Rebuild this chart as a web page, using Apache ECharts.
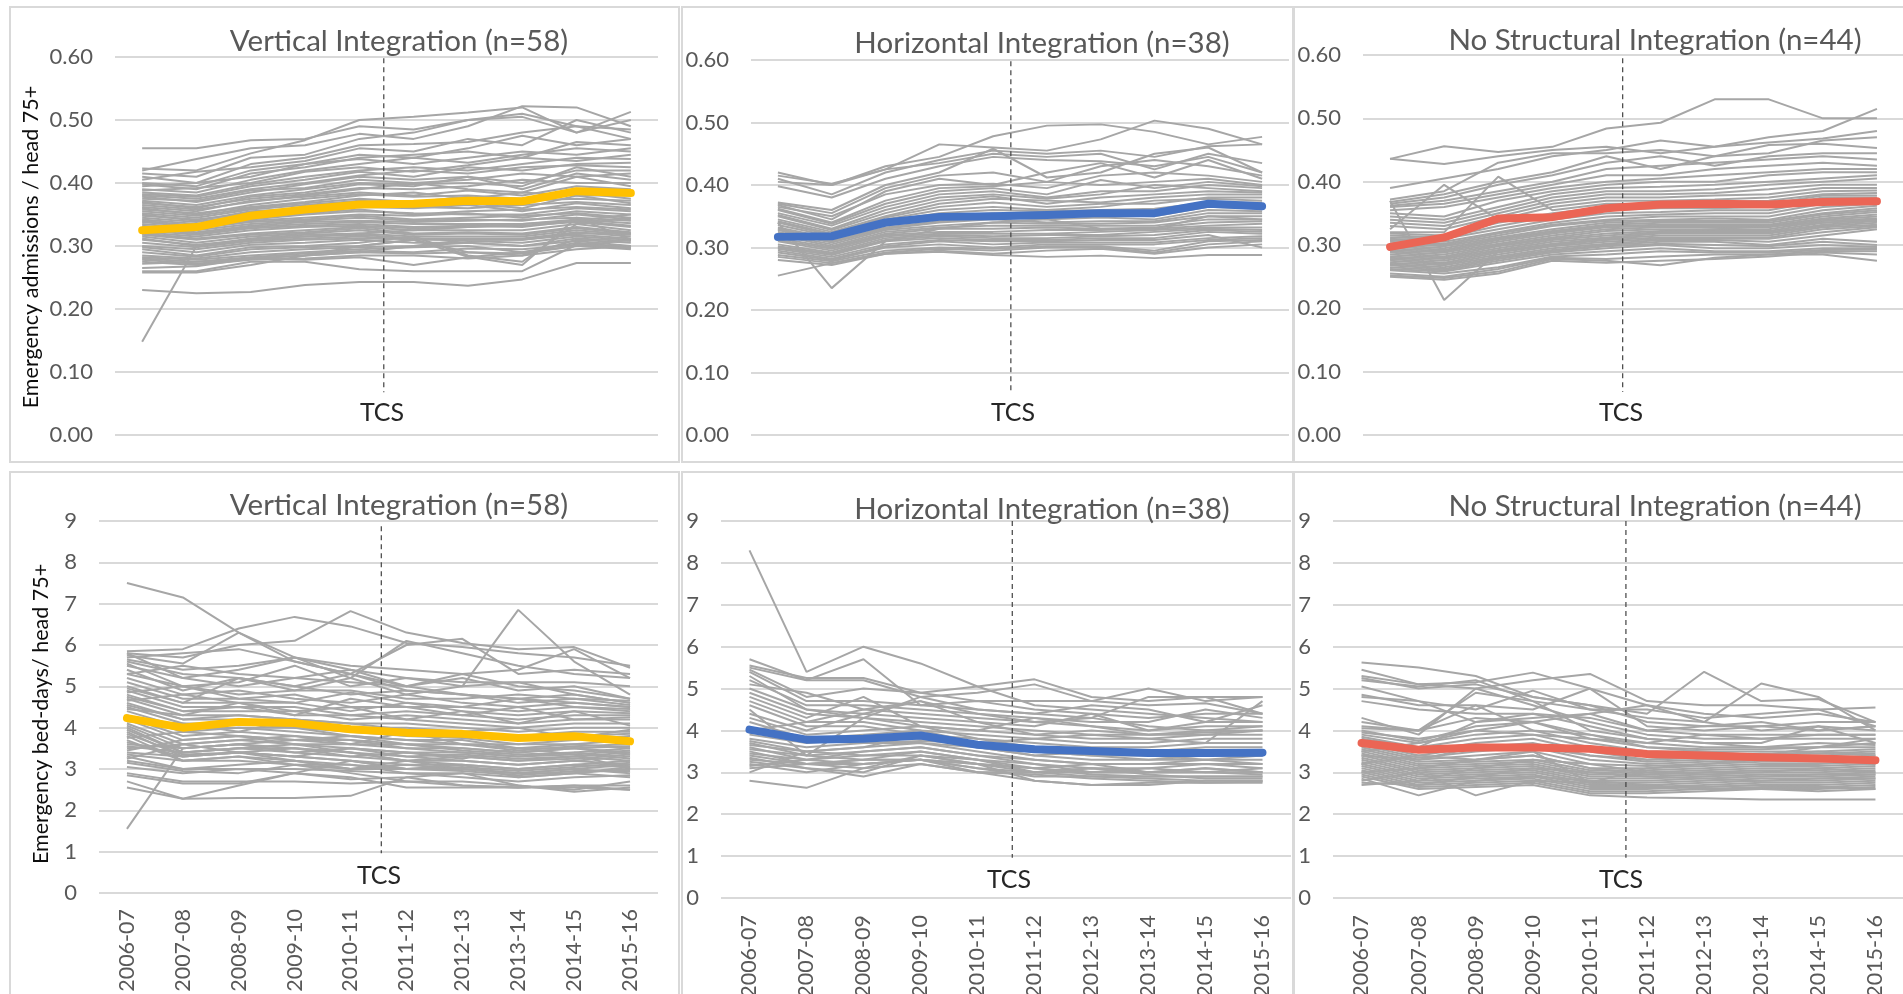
<!DOCTYPE html>
<html>
<head>
<meta charset="utf-8">
<script src="https://cdn.jsdelivr.net/npm/echarts@6/dist/echarts.min.js"></script>
<style>
html, body { margin: 0; padding: 0; background: #ffffff; }
#chart { width: 1903px; height: 994px; }
</style>
</head>
<body>
<div id="chart"></div>
<script>
// Financial years on the x axis
const years = ['2006-07','2007-08','2008-09','2009-10','2010-11','2011-12','2012-13','2013-14','2014-15','2015-16'];

// Emergency admissions per head 75+ : group means
const viAdmMean = [0.325,0.330,0.348,0.358,0.366,0.367,0.372,0.371,0.387,0.384];
const hiAdmMean = [0.317,0.318,0.340,0.349,0.350,0.352,0.355,0.355,0.370,0.366];
const nsAdmMean = [0.297,0.312,0.342,0.344,0.358,0.364,0.365,0.364,0.368,0.369];

// Emergency bed-days per head 75+ : group means
const viBedMean = [4.23,4.00,4.14,4.11,3.96,3.88,3.85,3.75,3.79,3.67];
const hiBedMean = [4.02,3.78,3.80,3.88,3.66,3.55,3.51,3.46,3.46,3.47];
const nsBedMean = [3.70,3.54,3.59,3.59,3.56,3.44,3.40,3.36,3.33,3.29];

// Vertical integration sites, admissions (n=58)
const viAdm = [
[0.455,0.455,0.468,0.470,0.490,0.485,0.500,0.510,0.490,0.470],
[0.423,0.420,0.447,0.468,0.500,0.505,0.512,0.520,0.480,0.500],
[0.420,0.438,0.455,0.460,0.478,0.470,0.490,0.522,0.520,0.490],
[0.415,0.410,0.440,0.445,0.470,0.480,0.500,0.505,0.480,0.513],
[0.410,0.400,0.430,0.440,0.460,0.462,0.465,0.480,0.490,0.485],
[0.405,0.418,0.425,0.435,0.455,0.450,0.470,0.460,0.500,0.480],
[0.400,0.395,0.420,0.430,0.445,0.440,0.455,0.475,0.460,0.470],
[0.398,0.390,0.415,0.425,0.440,0.445,0.450,0.440,0.465,0.460],
[0.395,0.400,0.410,0.430,0.438,0.430,0.440,0.450,0.445,0.455],
[0.390,0.385,0.405,0.420,0.430,0.440,0.432,0.445,0.455,0.450],
[0.388,0.392,0.400,0.418,0.425,0.418,0.428,0.440,0.435,0.445],
[0.385,0.380,0.398,0.410,0.420,0.425,0.420,0.430,0.440,0.438],
[0.382,0.378,0.395,0.405,0.418,0.410,0.425,0.420,0.430,0.432],
[0.380,0.375,0.390,0.400,0.412,0.420,0.415,0.425,0.428,0.425],
[0.378,0.370,0.385,0.398,0.410,0.405,0.410,0.400,0.420,0.420],
[0.375,0.372,0.388,0.392,0.405,0.400,0.405,0.415,0.410,0.415],
[0.372,0.365,0.380,0.390,0.400,0.398,0.400,0.395,0.425,0.410],
[0.370,0.360,0.378,0.385,0.398,0.395,0.410,0.390,0.415,0.405],
[0.368,0.362,0.375,0.382,0.392,0.390,0.395,0.405,0.400,0.400],
[0.365,0.358,0.370,0.380,0.390,0.400,0.390,0.385,0.410,0.395],
[0.362,0.355,0.372,0.378,0.385,0.380,0.388,0.380,0.395,0.390],
[0.360,0.350,0.365,0.375,0.382,0.378,0.380,0.375,0.390,0.388],
[0.358,0.352,0.362,0.370,0.380,0.385,0.375,0.385,0.380,0.380],
[0.355,0.348,0.360,0.368,0.375,0.370,0.378,0.368,0.385,0.375],
[0.352,0.345,0.358,0.365,0.372,0.368,0.370,0.372,0.375,0.372],
[0.350,0.340,0.355,0.360,0.370,0.365,0.368,0.360,0.380,0.368],
[0.348,0.342,0.352,0.358,0.365,0.362,0.360,0.365,0.370,0.365],
[0.345,0.338,0.350,0.355,0.362,0.360,0.365,0.355,0.368,0.360],
[0.342,0.335,0.345,0.352,0.358,0.350,0.355,0.358,0.362,0.358],
[0.340,0.332,0.342,0.350,0.355,0.352,0.350,0.350,0.360,0.355],
[0.338,0.330,0.340,0.345,0.350,0.348,0.352,0.345,0.355,0.350],
[0.335,0.328,0.338,0.342,0.348,0.342,0.345,0.348,0.352,0.345],
[0.332,0.325,0.335,0.340,0.345,0.340,0.342,0.340,0.350,0.342],
[0.330,0.322,0.332,0.338,0.340,0.338,0.340,0.342,0.345,0.340],
[0.328,0.320,0.330,0.335,0.338,0.335,0.335,0.335,0.342,0.336],
[0.325,0.318,0.328,0.332,0.335,0.330,0.332,0.330,0.340,0.332],
[0.322,0.315,0.325,0.330,0.332,0.328,0.330,0.332,0.338,0.330],
[0.320,0.312,0.320,0.325,0.330,0.325,0.325,0.325,0.335,0.325],
[0.318,0.310,0.318,0.322,0.328,0.320,0.322,0.320,0.330,0.322],
[0.315,0.305,0.315,0.320,0.325,0.318,0.320,0.318,0.328,0.320],
[0.312,0.300,0.312,0.318,0.320,0.315,0.315,0.315,0.325,0.318],
[0.310,0.302,0.310,0.315,0.318,0.312,0.312,0.312,0.322,0.315],
[0.305,0.298,0.308,0.312,0.315,0.310,0.310,0.310,0.318,0.312],
[0.300,0.295,0.305,0.310,0.312,0.312,0.308,0.305,0.315,0.310],
[0.298,0.290,0.302,0.305,0.310,0.305,0.305,0.300,0.312,0.308],
[0.295,0.285,0.298,0.300,0.305,0.315,0.285,0.275,0.335,0.345],
[0.290,0.283,0.295,0.298,0.300,0.310,0.290,0.285,0.310,0.305],
[0.285,0.280,0.290,0.295,0.298,0.300,0.305,0.300,0.308,0.300],
[0.282,0.278,0.285,0.290,0.295,0.298,0.300,0.290,0.305,0.298],
[0.280,0.275,0.282,0.288,0.292,0.290,0.296,0.295,0.302,0.296],
[0.278,0.272,0.280,0.285,0.290,0.288,0.290,0.288,0.300,0.295],
[0.275,0.270,0.278,0.280,0.285,0.285,0.280,0.285,0.295,0.300],
[0.272,0.275,0.280,0.278,0.282,0.270,0.282,0.290,0.300,0.310],
[0.260,0.260,0.275,0.275,0.263,0.260,0.260,0.260,0.302,0.297],
[0.258,0.258,0.270,0.285,0.300,0.310,0.283,0.270,0.345,0.310],
[0.265,0.268,0.280,0.285,0.290,0.300,0.310,0.310,0.320,0.320],
[0.230,0.225,0.227,0.238,0.243,0.243,0.237,0.247,0.273,0.273],
[0.148,0.300,0.310,0.315,0.320,0.325,0.330,0.335,0.340,0.350]
];

// Horizontal integration sites, admissions (n=38)
const hiAdm = [
[0.420,0.400,0.430,0.445,0.478,0.495,0.497,0.485,0.465,0.477],
[0.415,0.402,0.425,0.465,0.460,0.455,0.473,0.503,0.490,0.465],
[0.410,0.385,0.420,0.440,0.455,0.450,0.455,0.445,0.462,0.465],
[0.405,0.400,0.425,0.435,0.450,0.445,0.450,0.425,0.450,0.435],
[0.398,0.380,0.410,0.430,0.445,0.440,0.438,0.430,0.445,0.420],
[0.372,0.360,0.400,0.420,0.458,0.412,0.420,0.450,0.460,0.420],
[0.370,0.355,0.395,0.415,0.420,0.405,0.430,0.440,0.430,0.415],
[0.368,0.345,0.390,0.410,0.400,0.420,0.435,0.412,0.440,0.410],
[0.365,0.350,0.385,0.400,0.402,0.395,0.415,0.420,0.415,0.405],
[0.362,0.340,0.375,0.395,0.398,0.405,0.400,0.405,0.410,0.400],
[0.360,0.338,0.370,0.390,0.395,0.385,0.408,0.395,0.405,0.398],
[0.355,0.335,0.365,0.385,0.390,0.380,0.390,0.390,0.400,0.395],
[0.352,0.330,0.360,0.380,0.385,0.378,0.385,0.400,0.395,0.390],
[0.350,0.328,0.355,0.375,0.382,0.370,0.380,0.385,0.390,0.388],
[0.345,0.325,0.350,0.370,0.378,0.375,0.372,0.380,0.385,0.385],
[0.342,0.322,0.348,0.365,0.372,0.365,0.370,0.370,0.380,0.380],
[0.340,0.320,0.345,0.360,0.365,0.360,0.365,0.375,0.378,0.375],
[0.336,0.318,0.342,0.355,0.360,0.358,0.360,0.362,0.372,0.372],
[0.332,0.315,0.340,0.350,0.355,0.350,0.358,0.355,0.370,0.368],
[0.330,0.312,0.335,0.345,0.352,0.348,0.352,0.350,0.365,0.362],
[0.328,0.310,0.332,0.342,0.348,0.345,0.348,0.345,0.360,0.358],
[0.325,0.308,0.330,0.340,0.345,0.340,0.342,0.342,0.355,0.355],
[0.322,0.305,0.328,0.335,0.340,0.338,0.338,0.340,0.350,0.350],
[0.320,0.302,0.325,0.332,0.335,0.335,0.335,0.335,0.345,0.345],
[0.315,0.300,0.322,0.330,0.330,0.332,0.330,0.332,0.340,0.342],
[0.312,0.298,0.320,0.325,0.325,0.328,0.328,0.330,0.335,0.338],
[0.310,0.295,0.318,0.322,0.322,0.322,0.325,0.328,0.332,0.332],
[0.305,0.292,0.315,0.320,0.318,0.320,0.320,0.325,0.330,0.328],
[0.302,0.290,0.312,0.318,0.315,0.315,0.318,0.320,0.328,0.325],
[0.300,0.288,0.310,0.315,0.312,0.312,0.315,0.315,0.325,0.322],
[0.298,0.285,0.305,0.312,0.310,0.310,0.312,0.312,0.320,0.300],
[0.295,0.282,0.302,0.310,0.305,0.308,0.308,0.308,0.315,0.318],
[0.292,0.280,0.300,0.305,0.300,0.305,0.305,0.305,0.312,0.315],
[0.288,0.278,0.295,0.300,0.298,0.302,0.302,0.295,0.310,0.312],
[0.285,0.275,0.292,0.298,0.295,0.300,0.300,0.292,0.305,0.310],
[0.280,0.272,0.290,0.295,0.290,0.295,0.298,0.290,0.300,0.305],
[0.340,0.235,0.310,0.330,0.340,0.345,0.330,0.330,0.350,0.345],
[0.255,0.275,0.290,0.293,0.288,0.285,0.287,0.283,0.288,0.288]
];

// No structural integration sites, admissions (n=44)
const nsAdm = [
[0.436,0.456,0.447,0.455,0.484,0.493,0.530,0.530,0.500,0.500],
[0.436,0.428,0.440,0.450,0.455,0.445,0.455,0.470,0.480,0.515],
[0.390,0.405,0.420,0.440,0.450,0.465,0.455,0.462,0.468,0.480],
[0.372,0.385,0.430,0.445,0.445,0.450,0.440,0.445,0.465,0.470],
[0.368,0.380,0.400,0.415,0.440,0.420,0.440,0.458,0.460,0.453],
[0.365,0.375,0.395,0.410,0.430,0.440,0.425,0.440,0.445,0.445],
[0.362,0.370,0.385,0.400,0.420,0.425,0.430,0.435,0.440,0.435],
[0.360,0.365,0.380,0.395,0.410,0.410,0.420,0.425,0.430,0.425],
[0.355,0.360,0.375,0.390,0.400,0.405,0.410,0.415,0.420,0.420],
[0.350,0.345,0.370,0.385,0.395,0.400,0.400,0.410,0.415,0.415],
[0.345,0.340,0.360,0.380,0.390,0.392,0.395,0.400,0.405,0.410],
[0.340,0.335,0.355,0.375,0.385,0.385,0.388,0.395,0.400,0.405],
[0.335,0.330,0.350,0.370,0.380,0.380,0.382,0.388,0.395,0.395],
[0.330,0.325,0.345,0.365,0.375,0.375,0.378,0.380,0.390,0.390],
[0.325,0.395,0.340,0.360,0.370,0.370,0.372,0.375,0.385,0.386],
[0.320,0.320,0.408,0.355,0.365,0.365,0.368,0.370,0.380,0.382],
[0.318,0.315,0.335,0.350,0.360,0.360,0.362,0.365,0.378,0.378],
[0.315,0.312,0.330,0.345,0.355,0.358,0.358,0.360,0.375,0.375],
[0.312,0.310,0.325,0.340,0.350,0.352,0.355,0.355,0.370,0.372],
[0.310,0.305,0.320,0.335,0.345,0.348,0.350,0.350,0.365,0.368],
[0.308,0.302,0.318,0.332,0.340,0.345,0.345,0.345,0.360,0.365],
[0.305,0.300,0.315,0.330,0.338,0.340,0.342,0.340,0.355,0.362],
[0.302,0.298,0.312,0.325,0.335,0.338,0.338,0.338,0.350,0.358],
[0.300,0.295,0.310,0.322,0.332,0.335,0.335,0.335,0.348,0.355],
[0.298,0.292,0.308,0.320,0.330,0.332,0.332,0.332,0.345,0.352],
[0.295,0.290,0.305,0.318,0.328,0.330,0.330,0.330,0.342,0.348],
[0.292,0.288,0.302,0.315,0.325,0.328,0.328,0.328,0.340,0.345],
[0.290,0.285,0.300,0.312,0.322,0.325,0.325,0.325,0.338,0.342],
[0.288,0.282,0.298,0.310,0.318,0.322,0.322,0.322,0.335,0.340],
[0.285,0.280,0.295,0.308,0.315,0.320,0.320,0.320,0.332,0.338],
[0.282,0.278,0.292,0.305,0.312,0.318,0.318,0.318,0.330,0.335],
[0.280,0.275,0.290,0.302,0.310,0.315,0.315,0.315,0.328,0.332],
[0.278,0.272,0.288,0.300,0.308,0.312,0.312,0.312,0.325,0.330],
[0.275,0.270,0.285,0.298,0.305,0.310,0.310,0.310,0.320,0.328],
[0.272,0.268,0.282,0.295,0.302,0.308,0.308,0.305,0.315,0.325],
[0.270,0.265,0.280,0.292,0.300,0.305,0.305,0.300,0.310,0.305],
[0.268,0.262,0.278,0.290,0.298,0.302,0.300,0.298,0.305,0.300],
[0.265,0.260,0.275,0.288,0.295,0.300,0.295,0.295,0.300,0.297],
[0.262,0.258,0.272,0.285,0.290,0.295,0.290,0.290,0.295,0.295],
[0.260,0.255,0.265,0.282,0.285,0.290,0.288,0.288,0.292,0.293],
[0.255,0.250,0.262,0.280,0.278,0.282,0.285,0.285,0.290,0.290],
[0.252,0.248,0.258,0.278,0.275,0.268,0.280,0.285,0.285,0.275],
[0.250,0.245,0.255,0.275,0.272,0.275,0.278,0.282,0.288,0.285],
[0.370,0.213,0.290,0.300,0.310,0.320,0.325,0.330,0.335,0.340]
];

// Vertical integration sites, bed-days (n=58)
const viBed = [
[7.50,7.15,6.30,5.60,5.30,5.00,4.80,4.70,4.60,4.50],
[5.85,5.90,6.40,6.68,6.45,6.05,5.95,5.80,5.70,5.50],
[5.80,5.70,6.00,6.10,6.82,6.30,6.05,5.90,5.95,5.45],
[5.75,5.55,6.30,5.70,5.40,5.20,5.00,6.85,5.60,4.80],
[5.70,5.80,5.90,5.60,5.30,6.00,6.15,5.30,5.40,5.30],
[5.65,5.40,5.50,5.70,5.50,5.40,5.30,5.40,5.90,5.20],
[5.60,5.30,5.20,4.90,5.20,6.10,5.80,5.50,5.30,5.20],
[5.55,5.00,5.10,5.50,5.00,5.20,5.10,5.10,5.10,5.00],
[5.50,5.20,5.00,5.20,5.40,5.00,5.30,5.00,4.90,4.70],
[5.40,4.90,5.20,5.00,4.80,4.90,4.80,4.70,4.80,4.60],
[5.30,5.00,4.80,4.90,4.90,4.70,4.70,4.80,4.70,4.55],
[5.20,4.80,4.90,4.70,4.60,4.80,4.60,4.50,4.60,4.50],
[5.10,4.70,4.70,4.80,4.50,4.50,4.50,4.40,4.50,4.40],
[5.00,4.60,4.60,4.60,4.40,4.60,4.40,4.30,4.40,4.35],
[4.90,4.50,4.50,4.50,4.30,4.40,4.30,4.20,4.30,4.30],
[4.80,4.40,4.40,4.40,4.20,4.30,4.20,4.10,4.20,4.20],
[4.75,4.40,4.50,4.30,4.30,4.20,4.10,4.00,4.10,4.10],
[4.70,4.30,4.30,4.20,4.10,4.10,4.00,3.90,4.00,4.00],
[4.60,4.20,4.20,4.10,4.00,4.00,3.90,3.80,3.90,3.90],
[4.55,4.20,4.30,4.20,4.00,3.90,3.80,3.70,3.80,3.85],
[4.50,4.10,4.10,4.00,3.90,3.80,3.75,3.60,3.70,3.80],
[4.40,4.00,4.00,3.90,3.80,3.70,3.70,3.50,3.60,3.70],
[4.30,3.90,4.00,4.00,3.80,3.60,3.60,3.45,3.55,3.60],
[4.25,3.80,3.90,3.80,3.70,3.50,3.50,3.40,3.50,3.55],
[4.20,3.70,3.80,3.70,3.60,3.60,3.45,3.35,3.40,3.50],
[4.10,3.60,3.70,3.60,3.50,3.40,3.40,3.30,3.35,3.45],
[4.05,3.50,3.60,3.50,3.40,3.30,3.35,3.25,3.30,3.40],
[4.00,3.40,3.50,3.40,3.30,3.20,3.30,3.20,3.25,3.35],
[3.95,3.40,3.50,3.50,3.40,3.20,3.20,3.10,3.20,3.30],
[3.90,3.30,3.40,3.30,3.20,3.10,3.10,3.00,3.10,3.20],
[3.85,3.35,3.40,3.20,3.10,3.00,3.05,2.95,3.05,3.15],
[3.80,3.20,3.30,3.20,3.00,3.00,3.00,2.90,3.00,3.10],
[3.70,3.20,3.30,3.10,3.10,2.90,2.90,2.80,2.90,3.00],
[3.65,3.30,3.40,3.30,3.20,3.00,2.95,2.85,2.95,2.95],
[3.60,3.50,3.60,3.40,3.50,3.30,3.20,3.10,3.20,3.10],
[3.55,3.40,3.50,3.60,3.40,3.20,3.10,3.00,3.10,3.05],
[3.50,3.60,3.70,3.80,3.60,3.50,3.40,3.30,3.40,3.25],
[3.45,3.70,3.80,3.70,3.70,3.60,3.50,3.40,3.50,3.35],
[3.40,3.30,3.40,3.50,3.30,3.40,3.30,3.20,3.30,3.20],
[3.35,3.20,3.20,3.10,3.00,3.10,3.00,2.90,3.00,2.90],
[3.30,3.00,3.00,3.00,2.95,2.90,2.80,2.70,2.80,2.85],
[3.20,3.00,3.10,3.20,3.00,3.20,3.00,2.90,2.90,2.80],
[3.15,2.95,2.90,3.10,2.90,2.70,2.70,2.60,2.50,2.70],
[2.90,2.70,2.70,2.70,2.65,2.70,2.60,2.55,2.60,2.60],
[2.85,2.65,2.65,2.90,2.75,2.80,2.90,2.60,2.45,2.55],
[2.55,2.28,2.30,2.30,2.35,2.80,2.60,2.55,2.60,2.50],
[2.70,2.28,2.60,2.90,2.80,2.55,2.55,2.55,2.55,2.50],
[1.55,3.50,3.60,3.70,3.80,3.70,3.60,3.50,3.50,3.40],
[5.80,5.20,5.40,5.70,5.20,4.80,5.00,5.10,4.80,4.60],
[5.30,5.50,5.30,5.20,5.10,5.00,5.20,4.90,5.00,4.70],
[4.95,4.60,5.20,5.00,5.30,4.90,4.80,4.60,4.70,4.65],
[4.65,4.80,4.60,4.30,4.70,4.50,4.30,4.50,4.20,4.25],
[4.45,4.30,4.60,4.40,4.50,4.20,4.40,4.10,4.40,4.05],
[4.15,4.10,3.90,4.20,4.10,3.95,3.90,4.00,3.75,3.95],
[3.75,3.90,3.80,3.60,3.60,3.90,3.60,3.60,3.60,3.50],
[3.25,3.60,3.40,3.30,3.50,3.40,3.25,3.50,3.35,3.00],
[3.05,2.90,3.00,2.90,3.20,3.00,3.10,2.80,2.90,3.05],
[4.85,5.00,4.70,4.60,4.85,4.60,4.50,4.70,4.50,4.45]
];

// Horizontal integration sites, bed-days (n=38)
const hiBed = [
[8.30,5.40,6.00,5.60,5.05,4.60,4.50,4.40,4.30,4.20],
[5.70,5.20,5.70,4.60,4.70,4.50,4.40,4.30,4.40,4.40],
[5.55,5.25,5.25,4.90,5.05,5.22,4.80,4.70,4.80,4.80],
[5.50,5.20,5.20,4.80,4.90,5.10,4.70,4.60,4.65,4.40],
[5.45,4.80,5.00,4.90,4.70,4.70,4.70,5.00,4.70,4.80],
[5.40,4.70,4.70,4.60,4.50,4.40,4.30,4.80,4.80,4.40],
[5.20,4.60,4.60,4.50,4.40,4.30,4.20,4.20,4.50,4.30],
[5.10,4.90,4.50,4.40,4.30,4.20,4.10,4.00,4.20,4.20],
[5.00,4.50,4.40,4.70,4.20,4.10,4.40,4.00,4.10,4.10],
[4.90,4.40,4.30,4.20,4.10,4.00,3.90,3.90,4.00,4.00],
[4.80,4.30,4.80,4.10,4.00,3.90,3.80,3.80,3.90,3.90],
[4.70,4.20,4.20,4.00,3.90,3.80,3.70,3.70,3.80,3.80],
[4.60,4.10,4.10,3.90,3.80,3.70,3.60,3.60,3.70,3.70],
[4.40,4.00,4.40,4.30,4.20,3.90,4.00,3.90,3.95,4.00],
[4.30,3.90,4.00,4.10,3.80,3.60,3.50,3.50,3.60,3.60],
[4.20,3.80,3.90,4.00,3.70,3.50,3.40,3.40,3.50,3.50],
[4.00,4.20,4.50,4.70,4.40,4.20,4.30,4.10,4.00,4.10],
[3.90,3.70,3.80,3.80,3.60,3.40,3.30,3.30,3.40,3.40],
[3.80,3.60,3.70,3.70,3.50,3.30,3.20,3.20,3.30,3.30],
[3.75,3.50,3.60,3.90,3.60,3.40,3.50,3.40,3.30,3.20],
[3.70,3.40,3.50,3.60,3.40,3.20,3.10,3.10,3.20,3.10],
[3.65,3.50,3.40,3.50,3.30,3.10,3.20,3.00,3.10,3.00],
[3.60,3.30,3.40,3.40,3.20,3.00,3.00,3.00,3.00,2.95],
[3.55,3.40,3.30,3.30,3.20,3.10,2.95,2.90,2.90,2.90],
[3.50,3.20,3.30,3.50,3.30,3.00,3.10,2.95,2.85,2.85],
[3.45,3.30,3.20,3.30,3.10,2.90,2.90,2.85,2.80,2.80],
[3.40,3.20,3.10,3.20,3.00,2.95,2.85,2.80,2.75,2.78],
[3.35,3.10,3.00,3.40,3.20,2.80,2.70,2.75,2.75,2.75],
[3.30,3.20,3.30,3.30,3.10,3.00,2.90,2.90,2.90,2.90],
[3.25,3.10,2.90,3.20,3.00,2.80,2.70,2.70,2.80,2.80],
[3.20,3.00,3.20,3.30,3.00,3.00,3.10,3.00,3.10,3.00],
[3.15,3.30,3.50,3.60,3.40,3.30,3.20,3.20,3.20,3.20],
[3.10,3.20,3.20,3.30,3.20,3.10,3.00,3.10,3.00,3.10],
[3.00,3.50,3.60,3.70,3.60,3.50,3.40,3.30,3.30,3.40],
[2.80,2.63,3.10,3.40,3.30,3.20,3.00,3.00,3.00,3.00],
[4.50,3.40,4.30,4.80,4.50,4.40,4.60,4.50,4.20,4.60],
[5.30,4.50,4.30,4.10,4.00,4.30,4.10,3.90,3.90,4.00],
[3.95,3.80,3.70,3.75,3.70,3.80,3.90,3.80,3.70,4.70]
];

// No structural integration sites, bed-days (n=44)
const nsBed = [
[5.62,5.50,5.30,4.80,4.60,4.20,4.10,4.10,4.00,4.10],
[5.45,5.10,5.15,5.38,5.00,4.60,4.40,4.30,4.40,4.20],
[5.30,5.10,5.00,5.20,5.35,4.70,4.60,4.60,4.50,4.10],
[5.25,5.00,5.10,4.80,4.60,4.40,5.40,4.70,4.75,4.20],
[5.20,5.05,5.20,4.70,4.50,4.30,4.20,5.12,4.80,4.00],
[5.05,4.70,4.50,4.95,4.50,4.50,4.30,4.40,4.50,4.55],
[4.85,4.60,4.60,4.50,5.00,4.10,4.00,4.10,4.20,4.20],
[4.80,4.70,4.20,4.30,4.40,4.60,4.20,4.00,4.10,4.00],
[4.70,4.50,4.40,4.40,4.30,4.00,3.90,3.90,3.90,3.90],
[4.30,3.90,5.00,4.60,4.20,3.90,3.80,3.80,3.80,3.80],
[4.10,4.00,4.90,4.70,4.00,3.80,3.70,3.70,4.10,3.70],
[4.05,4.00,4.60,4.00,3.90,3.70,3.60,3.60,3.70,3.65],
[3.95,3.80,4.00,4.20,3.80,3.60,3.55,3.55,3.60,3.60],
[3.90,3.70,3.90,4.00,3.70,3.50,3.50,3.50,3.50,3.55],
[3.80,3.60,3.80,3.90,3.60,3.40,3.40,3.45,3.45,3.50],
[3.75,3.50,3.70,3.80,3.50,3.30,3.35,3.40,3.40,3.45],
[3.70,3.40,3.60,3.70,3.40,3.25,3.30,3.35,3.35,3.40],
[3.65,3.35,3.50,3.60,3.30,3.20,3.25,3.30,3.30,3.35],
[3.60,3.30,3.40,3.50,3.20,3.15,3.20,3.25,3.25,3.30],
[3.55,3.25,3.30,3.40,3.10,3.10,3.15,3.20,3.20,3.25],
[3.50,3.20,3.25,3.30,3.05,3.05,3.10,3.15,3.15,3.20],
[3.45,3.15,3.20,3.25,3.00,3.00,3.05,3.10,3.10,3.15],
[3.40,3.10,3.15,3.20,2.95,2.95,3.00,3.05,3.05,3.10],
[3.35,3.05,3.10,3.15,2.90,2.90,2.95,3.00,3.00,3.05],
[3.30,3.00,3.05,3.10,2.85,2.85,2.90,2.95,2.95,3.00],
[3.25,2.95,3.00,3.05,2.80,2.80,2.85,2.90,2.90,2.95],
[3.20,2.90,2.95,3.00,2.75,2.75,2.80,2.85,2.85,2.90],
[3.15,2.85,2.90,2.95,2.70,2.70,2.75,2.80,2.80,2.85],
[3.10,2.80,2.85,2.90,2.65,2.65,2.70,2.75,2.75,2.80],
[3.05,2.75,2.80,2.85,2.60,2.60,2.65,2.70,2.70,2.75],
[3.00,2.70,2.75,2.80,2.55,2.55,2.60,2.65,2.65,2.70],
[2.95,2.65,2.70,2.75,2.50,2.50,2.55,2.60,2.60,2.65],
[2.90,2.60,2.65,2.70,2.45,2.40,2.38,2.35,2.35,2.35],
[2.85,2.45,2.80,2.90,2.80,2.70,2.60,2.60,2.55,2.60],
[2.80,3.00,2.45,2.80,2.75,2.65,2.65,2.70,2.65,2.60],
[2.75,2.70,2.90,3.10,3.00,2.90,2.85,2.80,2.85,2.85],
[2.70,2.80,3.10,3.30,3.20,3.00,2.95,2.90,2.95,2.95],
[4.20,4.00,4.30,4.20,4.40,4.00,4.10,4.20,4.00,4.10],
[3.85,3.60,4.20,4.40,4.10,3.80,3.70,3.60,3.60,3.70],
[3.50,3.70,4.00,3.90,3.80,3.70,3.90,3.80,3.90,3.90],
[3.40,3.30,3.60,3.60,3.40,3.30,3.40,3.40,3.50,3.40],
[3.20,3.40,3.30,3.50,2.75,3.10,3.20,3.30,3.30,3.20],
[3.00,3.10,3.30,3.40,3.10,2.95,3.00,3.00,3.10,3.00],
[4.00,3.75,4.10,4.20,3.90,3.60,3.50,3.40,3.60,3.80]
];

// Panel layout and styling
const FONT = 'Lato, "Open Sans", sans-serif';
const GREY_LINE = '#A6A6A6';
const GRID_LINE = '#D9D9D9';
const TEXT_GREY = '#595959';

const panels = [
  { grid: {left: 115, top: 57, width: 543, height: 378}, max: 0.6, step: 0.1, dec: 2,
    title: 'Vertical Integration (n=58)', tx: 399, ty: 41, tcs: 4.45, tcsTop: 0.598, tcsBot: 0.068,
    lx: 382, ly: 413, lines: viAdm, mean: viAdmMean, color: '#FFC000', xlab: false },
  { grid: {left: 751, top: 60, width: 538, height: 375}, max: 0.6, step: 0.1, dec: 2,
    title: 'Horizontal Integration (n=38)', tx: 1042, ty: 43, tcs: 4.33, tcsTop: 0.598, tcsBot: 0.068,
    lx: 1013, ly: 413, lines: hiAdm, mean: hiAdmMean, color: '#4472C4', xlab: false },
  { grid: {left: 1363, top: 55, width: 541, height: 380}, max: 0.6, step: 0.1, dec: 2,
    title: 'No Structural Integration (n=44)', tx: 1655, ty: 40, tcs: 4.3, tcsTop: 0.595, tcsBot: 0.068,
    lx: 1621, ly: 413, lines: nsAdm, mean: nsAdmMean, color: '#EB6555', xlab: false },
  { grid: {left: 99, top: 521, width: 559, height: 372}, max: 9, step: 1, dec: 0,
    title: 'Vertical Integration (n=58)', tx: 399, ty: 505, tcs: 4.55, tcsTop: 8.87, tcsBot: 0.96,
    lx: 379, ly: 876, lines: viBed, mean: viBedMean, color: '#FFC000', xlab: true, xm: 16 },
  { grid: {left: 721, top: 521, width: 570, height: 377}, max: 9, step: 1, dec: 0,
    title: 'Horizontal Integration (n=38)', tx: 1042, ty: 509, tcs: 4.61, tcsTop: 9, tcsBot: 0.96,
    lx: 1009, ly: 880, lines: hiBed, mean: hiBedMean, color: '#4472C4', xlab: true, xm: 17 },
  { grid: {left: 1333, top: 521, width: 571, height: 377}, max: 9, step: 1, dec: 0,
    title: 'No Structural Integration (n=44)', tx: 1655, ty: 506, tcs: 4.63, tcsTop: 9, tcsBot: 0.96,
    lx: 1621, ly: 880, lines: nsBed, mean: nsBedMean, color: '#EB6555', xlab: true, xm: 17 }
];

const grids = [], xAxes = [], yAxes = [], series = [], graphics = [];

// Panel frames
[[10, 7, 669, 455], [682, 7, 611, 455], [1294, 7, 620, 455],
 [10, 472, 669, 540], [682, 472, 611, 540], [1294, 472, 620, 540]].forEach(r => {
  graphics.push({ type: 'rect', shape: {x: r[0], y: r[1], width: r[2], height: r[3]},
    style: {fill: 'none', stroke: GRID_LINE, lineWidth: 2}, z: 0 });
});

panels.forEach((p, i) => {
  grids.push(Object.assign({containLabel: false, outerBoundsMode: 'none'}, p.grid));
  xAxes.push({
    type: 'category', gridIndex: i, data: years, boundaryGap: true,
    axisLine: {show: false}, axisTick: {show: false},
    axisLabel: {show: p.xlab, rotate: 90, margin: p.xm || 16, fontSize: 21.5, color: TEXT_GREY, fontFamily: FONT},
    splitLine: {show: false}
  });
  xAxes.push({ type: 'value', gridIndex: i, min: -0.5, max: 9.5, show: false });
  yAxes.push({
    type: 'value', gridIndex: i, min: 0, max: p.max, interval: p.step,
    axisLine: {show: false}, axisTick: {show: false},
    axisLabel: {margin: 22, fontSize: 22, color: TEXT_GREY, fontFamily: FONT,
      formatter: v => v.toFixed(p.dec)},
    splitLine: {show: true, lineStyle: {color: GRID_LINE, width: 2}}
  });

  p.lines.forEach(row => {
    series.push({
      type: 'line', xAxisIndex: 2 * i, yAxisIndex: i, data: row,
      symbol: 'none', silent: true, z: 2,
      lineStyle: {color: GREY_LINE, width: 2}
    });
  });
  series.push({
    type: 'line', xAxisIndex: 2 * i, yAxisIndex: i, data: p.mean,
    symbol: 'none', silent: true, z: 4,
    lineStyle: {color: p.color, width: 8, cap: 'round', join: 'round'}
  });
  // TCS marker: dashed vertical line between 2010-11 and 2011-12
  series.push({
    type: 'line', xAxisIndex: 2 * i + 1, yAxisIndex: i,
    data: [[p.tcs, p.tcsTop], [p.tcs, p.tcsBot]],
    symbol: 'none', silent: true, z: 3,
    lineStyle: {color: '#404040', width: 1.2, type: [5, 4]}
  });

  graphics.push({ type: 'text', x: p.tx, y: p.ty, z: 10,
    style: {text: p.title, fill: TEXT_GREY, font: '29.5px ' + FONT, textAlign: 'center', textVerticalAlign: 'middle'} });
  graphics.push({ type: 'text', x: p.lx, y: p.ly, z: 10,
    style: {text: 'TCS', fill: '#262626', font: '25px ' + FONT, textAlign: 'center', textVerticalAlign: 'middle'} });
});

// Y-axis names
graphics.push({ type: 'text', x: 31, y: 247, rotation: Math.PI / 2, z: 10,
  style: {text: 'Emergency admissions / head 75+', fill: '#0D0D0D', font: '21.5px ' + FONT,
    textAlign: 'center', textVerticalAlign: 'middle'} });
graphics.push({ type: 'text', x: 41, y: 714, rotation: Math.PI / 2, z: 10,
  style: {text: 'Emergency bed-days/ head 75+', fill: '#0D0D0D', font: '21.5px ' + FONT,
    textAlign: 'center', textVerticalAlign: 'middle'} });

const chart = echarts.init(document.getElementById('chart'), null, {renderer: 'canvas'});
chart.setOption({
  backgroundColor: '#ffffff',
  animation: false,
  grid: grids,
  xAxis: xAxes,
  yAxis: yAxes,
  series: series,
  graphic: graphics
});
</script>
</body>
</html>
